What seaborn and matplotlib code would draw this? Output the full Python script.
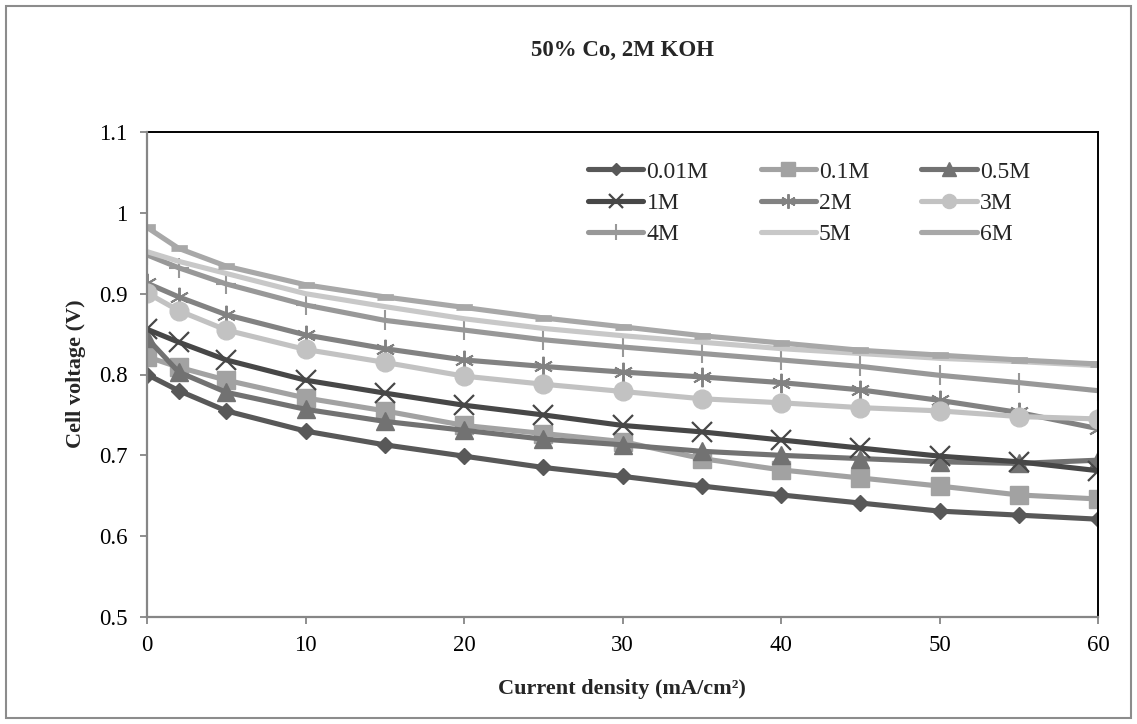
import matplotlib
matplotlib.use("Agg")
import matplotlib.pyplot as plt
from matplotlib.patches import Rectangle
import seaborn as sns

# Current density (mA/cm2) at which each polarisation point was measured
current_density = [0, 2, 5, 10, 15, 20, 25, 30, 35, 40, 45, 50, 55, 60]

# Cell voltage (V) for each concentration
v_001M = [0.800, 0.780, 0.755, 0.730, 0.713, 0.699, 0.685, 0.674, 0.662, 0.651, 0.641, 0.631, 0.626, 0.621]
v_01M = [0.822, 0.809, 0.793, 0.771, 0.755, 0.737, 0.727, 0.717, 0.696, 0.682, 0.672, 0.662, 0.651, 0.646]
v_05M = [0.845, 0.803, 0.778, 0.757, 0.742, 0.731, 0.720, 0.713, 0.705, 0.700, 0.696, 0.692, 0.690, 0.694]
v_1M = [0.856, 0.840, 0.818, 0.793, 0.777, 0.762, 0.750, 0.737, 0.729, 0.719, 0.709, 0.699, 0.692, 0.681]
v_2M = [0.913, 0.896, 0.874, 0.849, 0.832, 0.818, 0.810, 0.803, 0.797, 0.790, 0.781, 0.768, 0.753, 0.733]
v_3M = [0.901, 0.879, 0.855, 0.831, 0.815, 0.798, 0.788, 0.779, 0.770, 0.765, 0.759, 0.755, 0.748, 0.745]
v_4M = [0.948, 0.932, 0.912, 0.886, 0.867, 0.855, 0.843, 0.834, 0.826, 0.818, 0.810, 0.799, 0.790, 0.780]
v_5M = [0.952, 0.940, 0.925, 0.900, 0.884, 0.869, 0.857, 0.848, 0.840, 0.832, 0.826, 0.820, 0.816, 0.811]
v_6M = [0.982, 0.956, 0.934, 0.911, 0.896, 0.883, 0.870, 0.859, 0.848, 0.839, 0.830, 0.824, 0.818, 0.813]

series_names = ["0.01M", "0.1M", "0.5M", "1M", "2M", "3M", "4M", "5M", "6M"]
series_values = [v_001M, v_01M, v_05M, v_1M, v_2M, v_3M, v_4M, v_5M, v_6M]

x_ticks = [0, 10, 20, 30, 40, 50, 60]
y_ticks = [0.5, 0.6, 0.7, 0.8, 0.9, 1.0, 1.1]
y_tick_labels = ["0.5", "0.6", "0.7", "0.8", "0.9", "1", "1.1"]

# Styling per series: colour, marker, marker size, marker edge width
dash_marker = [(-1, -0.35), (1, -0.35), (1, 0.35), (-1, 0.35)]
styles = {
    "0.01M": ("#585858", "D", 8.5, 1.0),
    "0.1M": ("#a2a2a2", "s", 12.5, 1.0),
    "0.5M": ("#727272", "^", 13, 1.0),
    "1M": ("#474747", "x", 14, 1.6),
    "2M": ("#828282", (6, 2, 0), 14, 1.4),
    "3M": ("#c2c2c2", "o", 13.5, 1.0),
    "4M": ("#989898", "+", 15, 1.5),
    "5M": ("#c8c8c8", None, 0, 0),
    "6M": ("#a8a8a8", dash_marker, 12, 0.5),
}

sns.set_theme(style="white")
plt.rcParams["font.family"] = ["Liberation Serif", "DejaVu Serif"]

W, H = 1137, 724
fig = plt.figure(figsize=(W / 100, H / 100), dpi=100)
fig.patch.set_facecolor("white")

# Outer chart frame
fig.patches.append(Rectangle((6 / W, 6 / H), 1125 / W, 712 / H, transform=fig.transFigure,
                             fill=False, edgecolor="#8c8c8c", linewidth=1.5))

left, right, top, bottom = 147, 1098, 132, 617
ax = fig.add_axes([left / W, (H - bottom) / H, (right - left) / W, (bottom - top) / H])

for name, vals in zip(series_names, series_values):
    color, marker, ms, mew = styles[name]
    kw = dict(x=current_density, y=vals, ax=ax, color=color, linewidth=3.7,
              label=name, solid_capstyle="round", solid_joinstyle="round")
    if marker is not None:
        kw.update(marker=marker, markersize=ms, markeredgewidth=mew,
                  markerfacecolor=color, markeredgecolor=color)
    sns.lineplot(**kw)

ax.set_xlim(0, 60)
ax.set_ylim(0.5, 1.1)
ax.set_xticks(x_ticks)
ax.set_xticklabels([str(t) for t in x_ticks])
ax.set_yticks(y_ticks)
ax.set_yticklabels(y_tick_labels)
ax.tick_params(axis="both", which="major", direction="out", length=5, width=1.3,
               color="#868686", labelsize=16.5, labelcolor="black")
ax.tick_params(axis="y", pad=9)
ax.tick_params(axis="x", pad=8)
ax.tick_params(axis="both", bottom=True, left=True)

for side in ("top", "right"):
    ax.spines[side].set_color("black")
    ax.spines[side].set_linewidth(1.4)
for side in ("left", "bottom"):
    ax.spines[side].set_color("#868686")
    ax.spines[side].set_linewidth(1.6)
    ax.spines[side].set_zorder(5)
ax.grid(False)
ax.set_xlabel("")
ax.set_ylabel("")

# Legend laid out row by row in three columns
handles, labels = ax.get_legend_handles_labels()
order = [0, 3, 6, 1, 4, 7, 2, 5, 8]
leg = ax.legend([handles[i] for i in order], [labels[i] for i in order], ncol=3,
                loc="upper left", bbox_to_anchor=(588 / W, 1 - 161 / H),
                bbox_transform=fig.transFigure, frameon=False, fontsize=17,
                handlelength=2.35, handletextpad=0.13, columnspacing=2.2,
                labelspacing=0.42, borderpad=0, borderaxespad=0)
for h in leg.legend_handles:
    h.set_markersize(h.get_markersize() * 0.75)

fig.text(622 / W, 1 - 50 / H, "50% Co, 2M KOH", ha="center", va="center",
         fontsize=16.5, fontweight="bold")
fig.text(622 / W, 1 - 689 / H, "Current density (mA/cm²)", ha="center",
         va="center", fontsize=16, fontweight="bold")
fig.text(76 / W, 1 - 374 / H, "Cell voltage (V)", ha="center", va="center",
         rotation=90, fontsize=16, fontweight="bold")

fig.savefig("out.png", dpi=100, facecolor="white")
